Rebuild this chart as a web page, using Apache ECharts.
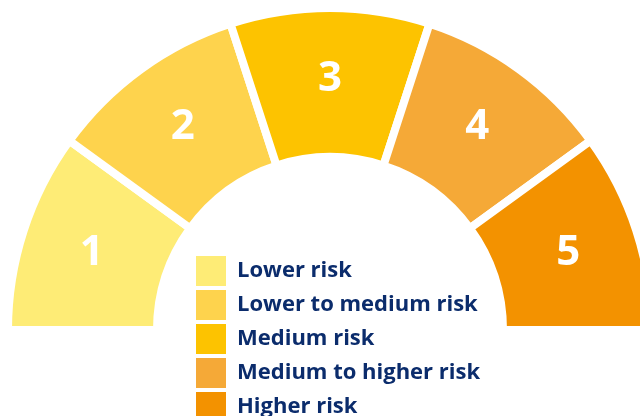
<!DOCTYPE html>
<html><head><meta charset="utf-8">
<script src="https://cdn.jsdelivr.net/npm/echarts@6/dist/echarts.min.js"></script>
<style>html,body{margin:0;padding:0;background:#fff}#c{width:640px;height:416px}</style>
</head><body><div id="c"></div>
<script>
const categories = ['Lower risk','Lower to medium risk','Medium risk','Medium to higher risk','Higher risk'];
const values = [1,1,1,1,1];
const segmentLabels = ['1','2','3','4','5'];
const colors = ['#FEEC76','#FED34D','#FDC300','#F5A937','#F39200'];

const chart = echarts.init(document.getElementById('c'), null, {renderer:'canvas'});
chart.setOption({
  animation:false,
  color: colors,
  legend:{
    orient:'vertical', left:196, top:256, height:200, padding:0,
    itemWidth:30, itemHeight:30, itemGap:4,
    icon:'rect',
    itemStyle:{borderWidth:0},
    data: categories,
    selectedMode:false,
    textStyle:{fontFamily:'Open Sans', fontWeight:'bold', fontSize:22, color:'#0B2C6C', padding:[0,0,0,6]}
  },
  series:[{
    type:'pie',
    center:[330,330],
    radius:[173,322],
    startAngle:180,
    endAngle:0,
    clockwise:true,
    silent:true,
    itemStyle:{borderColor:'#fff', borderWidth:8},
    label:{
      position:'inside',
      formatter:(p)=>segmentLabels[p.dataIndex],
      color:'#fff', fontFamily:'Open Sans', fontWeight:'bold', fontSize:42,
      padding:[12,0,0,0]
    },
    labelLine:{show:false},
    data: categories.map((n,i)=>({name:n, value:values[i]}))
  }]
});
</script></body></html>
